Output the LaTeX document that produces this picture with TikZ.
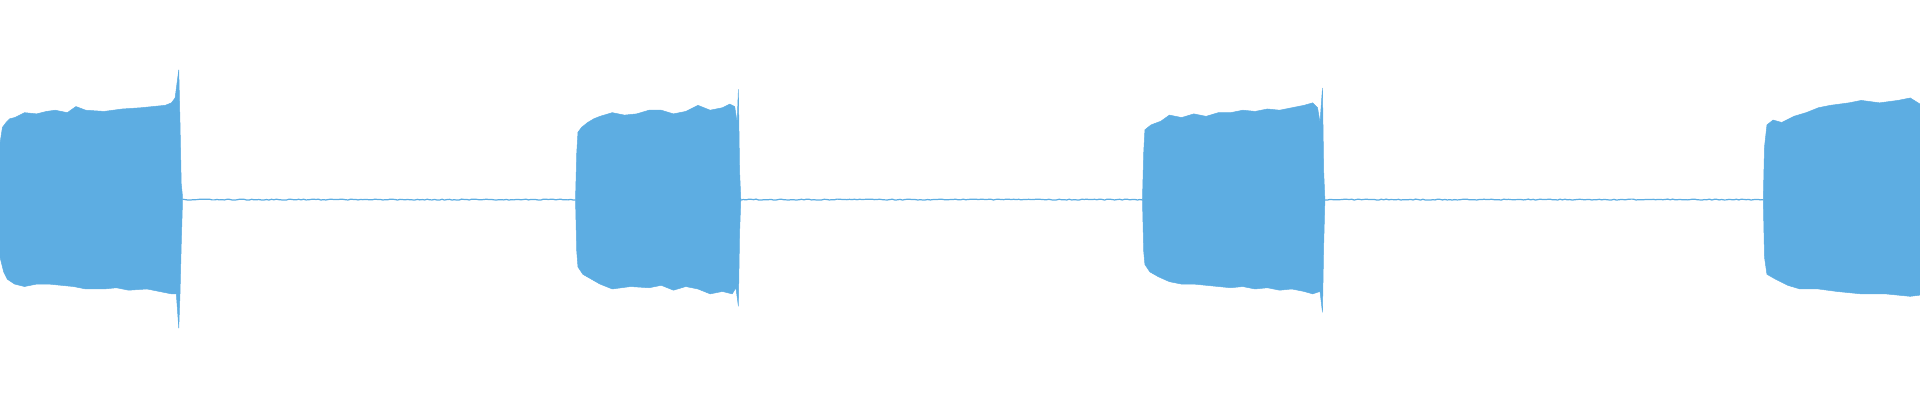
\documentclass[tikz,border=0pt]{standalone}
\usepackage{tikz}
\definecolor{wave}{RGB}{93,173,226}
\tikzset{burst/.style={fill=wave,draw=wave,line width=0.4pt,line join=round},
  quiet/.style={draw=wave,line width=1pt}}
\begin{document}
\begin{tikzpicture}[x=1pt,y=-1pt]
\pgfmathsetseed{7}
\useasboundingbox (0,0) rectangle (1568,326.7);

%Shape: burst 1
\draw [burst] (0,117) -- (2,104) -- (5,100) -- (8,97) -- (12,96) -- (20,92) -- (30,93) -- (38,91) -- (45,90) -- (55,92) -- (62,87) -- (70,90) -- (85,91) -- (100,89) -- (115,88) -- (125,87) -- (135,86) -- (140,84) -- (143,80) -- (146,57) -- (147,100) -- (148,150) -- (149,160) -- (149,166) -- (148,200) -- (147,240) -- (146,268) -- (144,240) -- (140,240) -- (130,238) -- (120,236) -- (105,237) -- (95,235) -- (85,236) -- (70,236) -- (60,234) -- (50,233) -- (40,232) -- (30,232) -- (20,234) -- (12,232) -- (6,228) -- (3,222) -- (0,210) -- cycle;

%Shape: burst 2
\draw [burst] (470,163) -- (471,125) -- (472,108) -- (475,104) -- (480,100) -- (485,97) -- (490,95) -- (500,92) -- (510,94) -- (520,93) -- (530,90) -- (540,90) -- (550,93) -- (560,91) -- (570,86) -- (580,90) -- (590,88) -- (596,85) -- (600,87) -- (602,100) -- (603,73) -- (604,140) -- (605,163) -- (604,190) -- (603,250) -- (601,235) -- (598,240) -- (590,238) -- (580,240) -- (570,236) -- (560,234) -- (550,237) -- (540,233) -- (530,235) -- (515,234) -- (500,236) -- (490,232) -- (483,228) -- (476,224) -- (472,218) -- (471,205) -- cycle;

%Shape: burst 3
\draw [burst] (933,163) -- (934,125) -- (935,106) -- (940,102) -- (948,99) -- (955,94) -- (965,96) -- (975,93) -- (985,95) -- (995,92) -- (1005,92) -- (1015,90) -- (1025,91) -- (1035,89) -- (1045,90) -- (1055,88) -- (1065,86) -- (1072,84) -- (1076,88) -- (1078,100) -- (1080,72) -- (1081,140) -- (1082,163) -- (1081,200) -- (1080,255) -- (1078,238) -- (1072,240) -- (1065,238) -- (1055,236) -- (1045,237) -- (1035,235) -- (1025,236) -- (1015,234) -- (1005,235) -- (995,234) -- (985,233) -- (975,232) -- (965,232) -- (955,230) -- (946,226) -- (939,222) -- (935,216) -- (934,205) -- cycle;

%Shape: burst 4
\draw [burst] (1440,163) -- (1441,120) -- (1443,102) -- (1448,98) -- (1455,100) -- (1465,95) -- (1475,92) -- (1485,88) -- (1495,86) -- (1510,84) -- (1520,82) -- (1535,84) -- (1550,82) -- (1560,80) -- (1568,85) -- (1568,241) -- (1560,242) -- (1540,240) -- (1520,240) -- (1500,238) -- (1485,236) -- (1470,236) -- (1460,233) -- (1450,228) -- (1443,224) -- (1441,210) -- cycle;

%Straight Lines: quiet parts
\draw [quiet] plot [domain=149:470, samples=160] (\x,{163+0.8*rnd-0.4});
\draw [quiet] plot [domain=605:933, samples=160] (\x,{163+0.8*rnd-0.4});
\draw [quiet] plot [domain=1082:1440, samples=180] (\x,{163+0.8*rnd-0.4});

\end{tikzpicture}
\end{document}
